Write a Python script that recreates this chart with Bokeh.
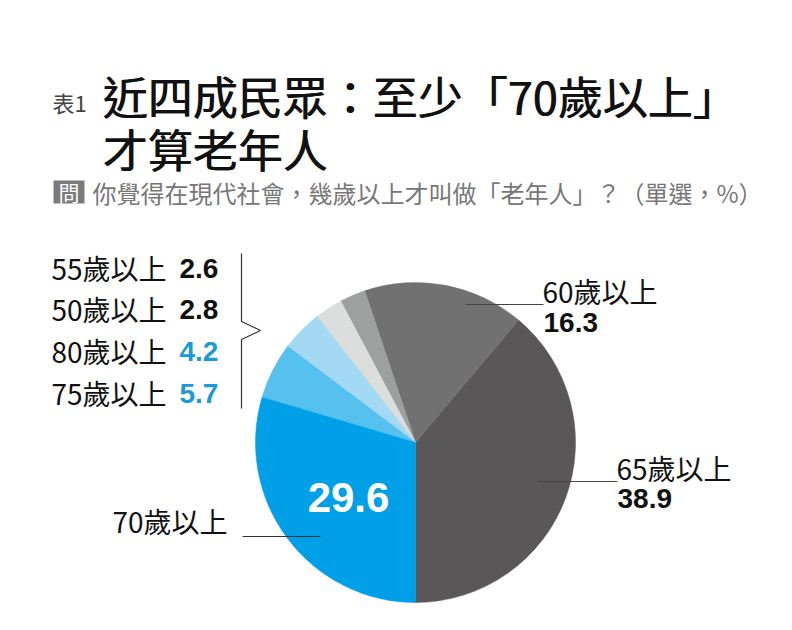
import numpy as np
from bokeh.plotting import figure
from bokeh.models import Range1d, ColumnDataSource
from bokeh.core.properties import value
from bokeh.embed import file_html
from bokeh.resources import INLINE

# ---- data ----
categories = ["65歲以上", "60歲以上", "55歲以上", "50歲以上", "80歲以上", "75歲以上", "70歲以上"]
values = [38.9, 16.3, 2.6, 2.8, 4.2, 5.7, 29.6]
colors = ["#595757", "#727171", "#9e9f9f", "#dcdddd", "#a3d9f2", "#56c1ef", "#00a0e9"]
title_line1 = "近四成民眾：至少「70歲以上」"
title_line2 = "才算老年人"
subtitle = "你覺得在現代社會，幾歲以上才叫做「老年人」？（單選，%）"
left_rows = ["55歲以上", "50歲以上", "80歲以上", "75歲以上"]

W, H = 792, 630
CJK = value("Noto Sans CJK TC")
NUM = value("Liberation Sans")

def Y(y):  # screen -> data
    return H - y

p = figure(width=W, height=H, x_range=Range1d(0, W), y_range=Range1d(0, H),
           output_backend="svg", toolbar_location=None, min_border=0)
p.axis.visible = False
p.grid.visible = False
p.outline_line_color = None
p.background_fill_color = "white"
p.border_fill_color = "white"

# ---- pie ----
cx, cy, r = 415, 442, 160
vals = np.array(values)
ang = vals / vals.sum() * 2 * np.pi
start = -np.pi / 2 + np.concatenate([[0], np.cumsum(ang)[:-1]])
end = start + ang
src = ColumnDataSource(dict(start=start, end=end, color=colors))
p.wedge(x=cx, y=Y(cy), radius=r, start_angle="start", end_angle="end",
        fill_color="color", line_color="color", line_width=0.5, source=src)

# ---- title (drawn twice with a tiny offset for a medium weight) ----
p.text(x=[52], y=[Y(101)], text=["表1"], text_font=CJK, text_font_size="22px",
       text_color="#444444", text_baseline="middle")
for dx in (0, 0.8):
    p.text(x=[102 + dx], y=[Y(95)], text=[title_line1], text_font=CJK, text_font_size="45px",
           text_color="#111111", text_baseline="middle")
    p.text(x=[102 + dx], y=[Y(148)], text=[title_line2], text_font=CJK, text_font_size="45px",
           text_color="#111111", text_baseline="middle")

# subtitle
p.quad(left=53, right=84, top=Y(180), bottom=Y(203), fill_color="#7a7a7a", line_color=None)
p.text(x=[68.5], y=[Y(191.5)], text=["問"], text_font=CJK, text_font_size="21px",
       text_color="white", text_align="center", text_baseline="middle")
p.text(x=[92], y=[Y(191.5)], text=[subtitle], text_font=CJK, text_font_size="24px",
       text_color="#777777", text_baseline="middle")

# ---- left rows (small slices) ----
idx = {c: i for i, c in enumerate(categories)}
row_y = [267, 308, 350, 392]
row_val_col = ["#111111", "#111111", "#1a9ad9", "#1a9ad9"]
for name, yy, vc in zip(left_rows, row_y, row_val_col):
    p.text(x=[51], y=[Y(yy)], text=[name], text_font=CJK, text_font_size="28px",
           text_color="#111111", text_baseline="middle")
    p.text(x=[179], y=[Y(yy + 1)], text=[f"{values[idx[name]]:.1f}"], text_font=NUM,
           text_font_size="28px", text_font_style="bold", text_color=vc,
           text_baseline="middle")

# bracket
bx = [241, 241, 260, 241, 241]
by = [253, 321, 330, 339, 408]
p.line(x=bx, y=[Y(v) for v in by], line_color="#333333", line_width=1.2)

# ---- right labels ----
# 60
p.line(x=[465, 543], y=[Y(304), Y(304)], line_color="#444444", line_width=1)
p.text(x=[542], y=[Y(290)], text=[categories[1]], text_font=CJK, text_font_size="28px",
       text_color="#111111", text_baseline="middle")
p.text(x=[543], y=[Y(322)], text=[f"{values[1]:.1f}"], text_font=NUM, text_font_size="28px",
       text_font_style="bold", text_color="#111111", text_baseline="middle")
# 65
p.line(x=[537, 617], y=[Y(481), Y(481)], line_color="#444444", line_width=1)
p.text(x=[616], y=[Y(467)], text=[categories[0]], text_font=CJK, text_font_size="28px",
       text_color="#111111", text_baseline="middle")
p.text(x=[617], y=[Y(498)], text=[f"{values[0]:.1f}"], text_font=NUM, text_font_size="28px",
       text_font_style="bold", text_color="#111111", text_baseline="middle")
# 70
p.line(x=[242, 320], y=[Y(536), Y(536)], line_color="#333333", line_width=1)
p.text(x=[112], y=[Y(520)], text=[categories[6]], text_font=CJK, text_font_size="28px",
       text_color="#111111", text_baseline="middle")
p.text(x=[348], y=[Y(497)], text=[f"{values[6]:.1f}"], text_font=NUM, text_font_size="42px",
       text_font_style="bold", text_color="white", text_align="center", text_baseline="middle")

open("out.html", "w").write(file_html(p, INLINE))
